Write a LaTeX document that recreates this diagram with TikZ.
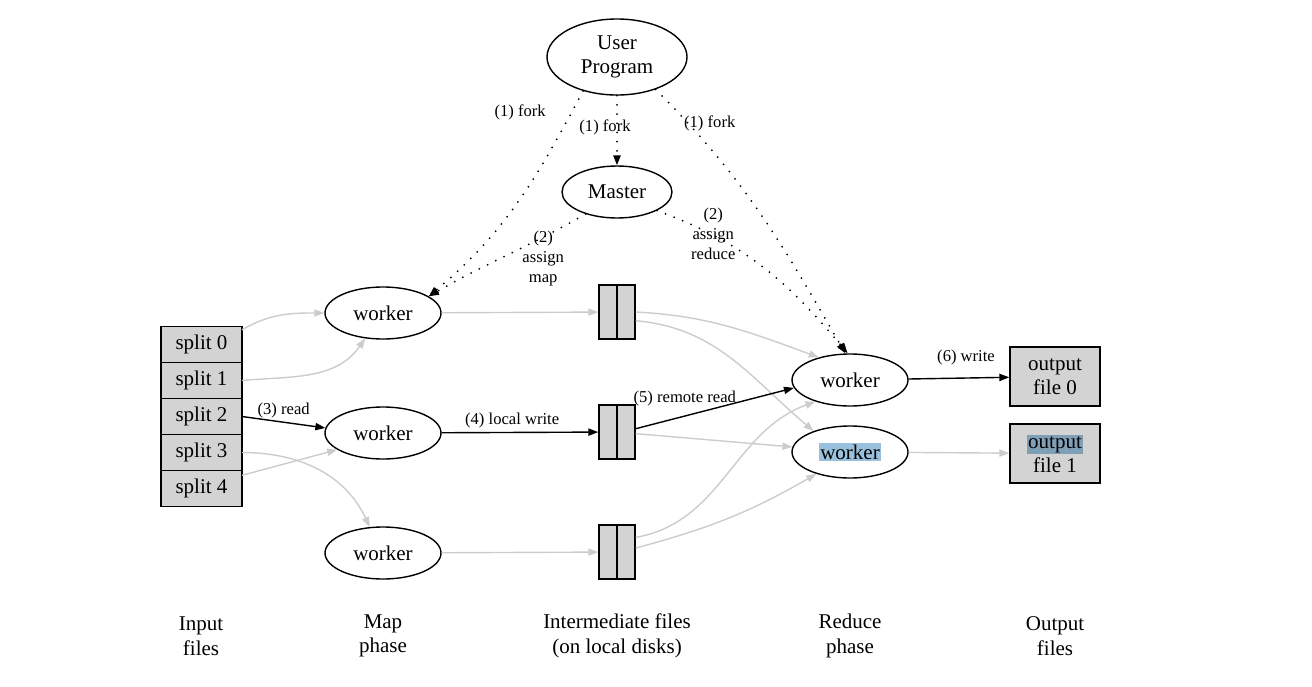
\documentclass[tikz,border=0pt]{standalone}
\usepackage{fontspec}
\setmainfont{Liberation Serif}
\usetikzlibrary{%
  positioning
 ,arrows.meta
 ,shapes
}
\definecolor{boxgray}{HTML}{D3D3D3}
\definecolor{linegray}{HTML}{CCCCCC}
\definecolor{hlblue}{HTML}{99C0DC}
\definecolor{hldark}{HTML}{7F9FB7}
\setlength{\fboxsep}{0.8pt}
\tikzstyle{mr}=[x=0.5pt,y=0.5pt,>={Triangle[length=5pt,width=3.6pt]},line width=0.7pt,font=\fontsize{10.5}{12}\selectfont]
\tikzstyle{wk}=[ellipse,draw=black,inner sep=0pt,minimum width=58pt,minimum height=26pt]
\tikzstyle{spl}=[rectangle,draw=black,fill=boxgray,minimum width=40.5pt,minimum height=18pt,inner sep=0pt,outer sep=0pt]
\tikzstyle{ifile}=[rectangle,draw=black,fill=boxgray,minimum width=18pt,minimum height=27pt,inner sep=0pt]
\tikzstyle{ofile}=[rectangle,draw=black,fill=boxgray,minimum width=45pt,minimum height=29.5pt,inner sep=0pt,align=center]
\tikzstyle{lbl}=[font=\fontsize{8.3}{10}\selectfont,inner sep=1pt,align=center]
\tikzstyle{ctl}=[dash pattern=on 0pt off 4.6pt,line cap=round,line width=1pt]
\tikzstyle{dat}=[color=linegray]
\tikzstyle{phase}=[align=center,font=\fontsize{10.5}{12.3}\selectfont]

\begin{document}
\begin{tikzpicture}[mr]
  \useasboundingbox (0,0) rectangle (1312,-686);
  % master side
  \node[wk,minimum width=70pt,minimum height=38pt,align=center] (u) at (617,-57) {User\\Program};
  \node[wk,minimum width=55pt] (m) at (617,-192) {Master};
  % input splits
  \node[spl] (s_0) at (201.5,-344.5) {split 0};
  \node[spl,below=0pt of s_0] (s_1) {split 1};
  \node[spl,below=0pt of s_1] (s_2) {split 2};
  \node[spl,below=0pt of s_2] (s_3) {split 3};
  \node[spl,below=0pt of s_3] (s_4) {split 4};
  % map workers and their files
  \node[wk] (w_1) at (383,-313) {worker};
  \node[wk] (w_2) at (383,-433) {worker};
  \node[wk] (w_3) at (383,-553) {worker};
  \node[ifile] (f_1) at (617,-312) {};
  \node[ifile] (f_2) at (617,-432) {};
  \node[ifile] (f_3) at (617,-552) {};
  \foreach \i in {1,2,3}
    \draw (f_\i.north) -- (f_\i.south);
  % reduce workers and output
  \node[wk] (r_1) at (850,-380) {worker};
  \node[wk] (r_2) at (850,-452) {\colorbox{hlblue}{worker}};
  \node[ofile] (o_0) at (1055,-376.5) {output\\file 0};
  \node[ofile] (o_1) at (1055,-453.5) {\colorbox{hldark}{output}\\file 1};
  % phases
  \node[phase] (t_in) at (201,-636) {Input\\files};
  \node[phase] (t_map) at (383,-636) {Map\\phase};
  \node[phase] (t_mid) at (617,-636) {Intermediate files\\(on local disks)};
  \node[phase] (t_red) at (850,-636) {Reduce\\phase};
  \node[phase] (t_out) at (1055,-636) {Output\\files};

  \path[->]
    (u) edge[ctl] node[lbl,pos=0.45,xshift=-6pt] {(1) fork} (m)
    (u.225) edge[ctl,out=242,in=40] node[lbl,pos=0.06,left=9pt,xshift=-4pt,yshift=-3pt] {(1) fork} (w_1.20)
    (u.-40) edge[ctl,out=-45,in=120] node[lbl,pos=0.13,right=0pt,xshift=-3.5pt] {(1) fork} (r_1.100)
    (m.215) edge[ctl,out=210,in=30] node[lbl,pos=0.15,anchor=north east,xshift=3.5pt] {(2)\\assign\\map} (w_1.20)
    (m.-25) edge[ctl,out=-20,in=130] node[lbl,pos=0.25,xshift=-1pt,yshift=1.5pt] {(2)\\assign\\reduce} (r_1.95);

  \path[->,dat]
    (s_0.20) edge[out=30,in=180] (w_1)
    (s_1.east) edge[out=5,in=235] (w_1.235)
    (s_3.east) edge[out=0,in=115] (w_3.117)
    (s_4.18) edge (w_2.200)
    (w_1) edge (f_1)
    (w_3) edge (f_3)
    (f_1.east) edge[out=-3,in=160] (r_1.144)
    (f_1.-25) edge[out=-5,in=140] (r_2.150)
    (f_2.-5) edge (r_2.175)
    (f_3.38) edge[out=10,in=200] (r_1.212)
    (f_3.12) edge[out=15,in=210] (r_2.213)
    (r_2) edge (o_1);

  \path[->]
    (s_2.east) edge node[lbl,above=1pt] {(3) read} (w_2.175)
    (w_2) edge node[lbl,pos=0.45,above=1pt] {(4) local write} (f_2)
    (f_2.10) edge node[lbl,pos=0.31,above=3.5pt] {(5) remote read} (r_1.188)
    (r_1) edge node[lbl,pos=0.57,above=5pt] {(6) write} (o_0);
\end{tikzpicture}
\end{document}
